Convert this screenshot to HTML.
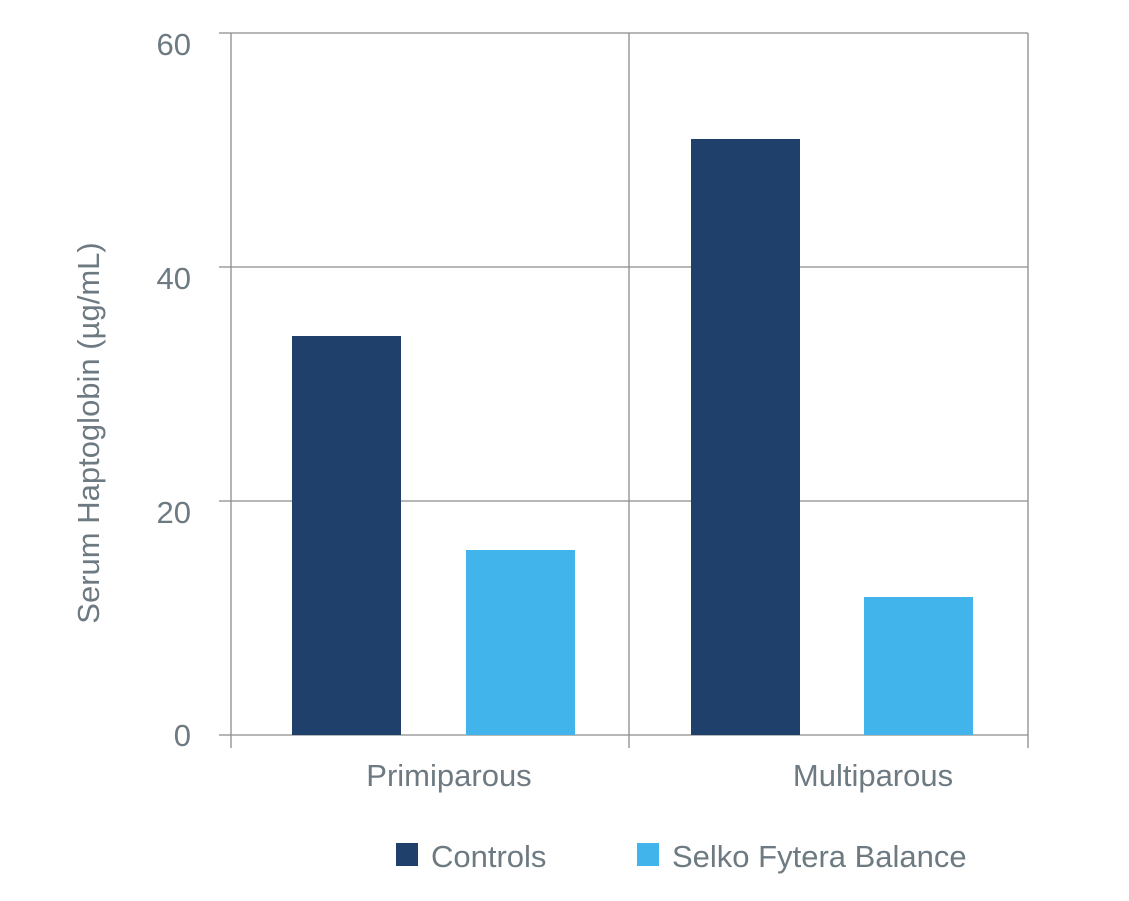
<!DOCTYPE html>
<html><head><meta charset="utf-8"><style>
html,body{margin:0;padding:0;background:#fff;}
svg{display:block;}
text{font-family:"Liberation Sans",sans-serif;fill:#6d7a82;}
</style></head><body>
<svg width="1129" height="901" viewBox="0 0 1129 901" xmlns="http://www.w3.org/2000/svg">
<g stroke="#8c8c8c" stroke-width="1.3" fill="none">
<line x1="219" y1="33" x2="1028" y2="33"/>
<line x1="219" y1="267" x2="1028" y2="267"/>
<line x1="219" y1="501" x2="1028" y2="501"/>
<line x1="219" y1="735" x2="1028" y2="735"/>
<line x1="231" y1="33" x2="231" y2="748"/>
<line x1="629" y1="33" x2="629" y2="748"/>
<line x1="1028" y1="33" x2="1028" y2="748"/>
</g>
<rect x="292" y="336" width="109" height="399" fill="#1f406a"/>
<rect x="466" y="550" width="109" height="185" fill="#42b4ec"/>
<rect x="691" y="139" width="109" height="596" fill="#1f406a"/>
<rect x="864" y="597" width="109" height="138" fill="#42b4ec"/>
<g font-size="31" text-anchor="end">
<text x="191" y="55">60</text>
<text x="191" y="289">40</text>
<text x="191" y="523">20</text>
<text x="191" y="746">0</text>
</g>
<g font-size="31" text-anchor="middle">
<text x="449" y="786">Primiparous</text>
<text x="873" y="786">Multiparous</text>
</g>
<text font-size="31" text-anchor="middle" transform="translate(99,433) rotate(-90)">Serum Haptoglobin (µg/mL)</text>
<rect x="396" y="843" width="22" height="23" fill="#1f406a"/>
<text x="431" y="867" font-size="31">Controls</text>
<rect x="637" y="843" width="22" height="23" fill="#42b4ec"/>
<text x="672" y="867" font-size="31">Selko Fytera Balance</text>
</svg>
</body></html>
